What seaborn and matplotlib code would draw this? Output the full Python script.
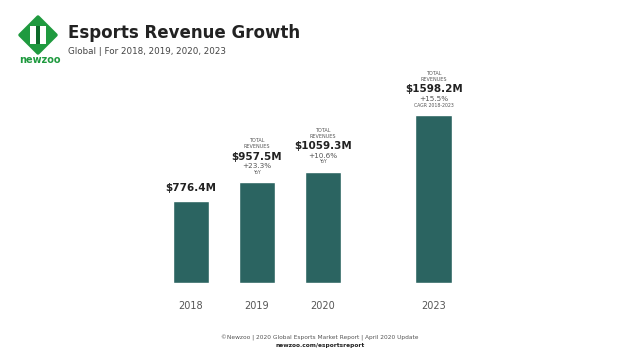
import matplotlib
matplotlib.use("Agg")
import matplotlib.pyplot as plt
import matplotlib.patches as mpatches
import seaborn as sns
import pandas as pd

# data
years = ["2018", "2019", "2020", "2023"]
revenues = [776.4, 957.5, 1059.3, 1598.2]
positions = [0, 1, 2, 3.68]  # 2023 sits apart from the first three
growth = ["", "+23.3%", "+10.6%", "+15.5%"]
growth_note = ["", "YoY", "YoY", "CAGR 2018-2023"]

df = pd.DataFrame({"pos": positions, "revenue": revenues, "year": years})

sns.set_theme(style="white")
plt.rcParams["font.family"] = ["DejaVu Sans"]

BAR = "#2b6461"
DARK = "#222222"
GREY = "#555555"
GREEN = "#1f9a3f"

fig = plt.figure(figsize=(6.4, 3.6), dpi=100)
fig.patch.set_facecolor("white")

ax = fig.add_axes([100 / 640, 1 - 283 / 360, 440 / 640, 216 / 360])
sns.barplot(data=df, x="pos", y="revenue", native_scale=True, color=BAR,
            width=0.56, saturation=1, ax=ax)
ax.set_xlim(-91 / 66, -91 / 66 + 440 / 66)
ax.set_ylim(0, 216 / 0.1051)
ax.set_xticks(positions)
ax.set_xticklabels(years, fontsize=7, color=GREY)
ax.tick_params(axis="x", length=0, pad=13)
ax.set_yticks([])
ax.set_xlabel("")
ax.set_ylabel("")
sns.despine(ax=ax, left=True, bottom=True)

# labels above the bars
for p, v, g, note in zip(positions, revenues, growth, growth_note):
    val = f"${v:.1f}M"
    if g == "":
        ax.annotate(val, (p, v), xytext=(0, 10), textcoords="offset points",
                    ha="center", va="center", fontsize=7.5, fontweight="bold", color=DARK)
        continue
    ax.annotate(note, (p, v), xytext=(0, 7), textcoords="offset points",
                ha="center", va="center", fontsize=3.3, color=GREY)
    ax.annotate(g, (p, v), xytext=(0, 11.5), textcoords="offset points",
                ha="center", va="center", fontsize=5.2, color=GREY)
    ax.annotate(val, (p, v), xytext=(0, 18.5), textcoords="offset points",
                ha="center", va="center", fontsize=7.5, fontweight="bold", color=DARK)
    ax.annotate("REVENUES", (p, v), xytext=(0, 25.5), textcoords="offset points",
                ha="center", va="center", fontsize=3.5, color=GREY)
    ax.annotate("TOTAL", (p, v), xytext=(0, 30), textcoords="offset points",
                ha="center", va="center", fontsize=3.5, color=GREY)

# header
fig.text(68 / 640, 1 - 33 / 360, "Esports Revenue Growth", fontsize=12,
         fontweight="bold", color=DARK, va="center", ha="left")
fig.text(68 / 640, 1 - 52 / 360, "Global | For 2018, 2019, 2020, 2023", fontsize=6.3,
         color="#444444", va="center", ha="left")

# newzoo logo
cx, cy, r = 38, 35, 18
diamond = mpatches.Polygon(
    [((cx) / 640, 1 - (cy - r) / 360), ((cx + r) / 640, 1 - cy / 360),
     ((cx) / 640, 1 - (cy + r) / 360), ((cx - r) / 640, 1 - cy / 360)],
    closed=True, transform=fig.transFigure, facecolor=GREEN, edgecolor=GREEN,
    linewidth=2.5, joinstyle="round")
fig.patches.append(diamond)
for dx in (-5, 5):
    stripe = mpatches.Polygon(
        [((cx + dx - 3) / 640, 1 - (cy - 9) / 360), ((cx + dx + 3) / 640, 1 - (cy - 9) / 360),
         ((cx + dx + 3) / 640, 1 - (cy + 9) / 360), ((cx + dx - 3) / 640, 1 - (cy + 9) / 360)],
        closed=True, transform=fig.transFigure, facecolor="white", edgecolor="none")
    fig.patches.append(stripe)
link = mpatches.Polygon(
    [((cx - 2) / 640, 1 - (cy - 9) / 360), ((cx + 2) / 640, 1 - (cy - 9) / 360),
     ((cx + 2) / 640, 1 - (cy + 9) / 360), ((cx - 2) / 640, 1 - (cy + 9) / 360)],
    closed=True, transform=fig.transFigure, facecolor="#0d6b2a", edgecolor="none")
fig.patches.append(link)
fig.text(40 / 640, 1 - 60 / 360, "newzoo", fontsize=7, fontweight="bold",
         color=GREEN, ha="center", va="center")

# footer
fig.text(320 / 640, 1 - 338 / 360,
         "\u00a9Newzoo | 2020 Global Esports Market Report | April 2020 Update",
         fontsize=4.2, color=GREY, ha="center", va="center")
fig.text(320 / 640, 1 - 346 / 360, "newzoo.com/esportsreport", fontsize=4.2,
         fontweight="bold", color=DARK, ha="center", va="center")

fig.savefig("out.png", dpi=100)
